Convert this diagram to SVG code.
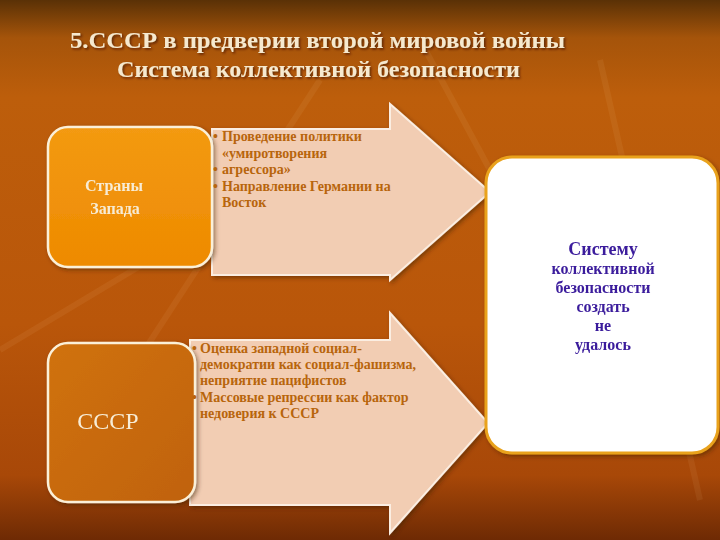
<svg xmlns="http://www.w3.org/2000/svg" width="720" height="540" viewBox="0 0 720 540">
<defs>
<linearGradient id="bg" x1="0" y1="0" x2="0" y2="1">
<stop offset="0" stop-color="#5a3106"/>
<stop offset="0.07" stop-color="#a5540a"/>
<stop offset="0.18" stop-color="#bd5e0b"/>
<stop offset="0.6" stop-color="#b9560a"/>
<stop offset="0.88" stop-color="#a84808"/>
<stop offset="1" stop-color="#6e2a04"/>
</linearGradient>
<linearGradient id="b1" x1="0" y1="0" x2="0" y2="1">
<stop offset="0" stop-color="#f39a12"/>
<stop offset="1" stop-color="#ee8a00"/>
</linearGradient>
<linearGradient id="b2" x1="0" y1="0" x2="1" y2="1">
<stop offset="0" stop-color="#d0720e"/>
<stop offset="1" stop-color="#c06208"/>
</linearGradient>
<filter id="sh" x="-10%" y="-10%" width="120%" height="120%">
<feDropShadow dx="2" dy="2" stdDeviation="2" flood-color="#3a1a00" flood-opacity="0.5"/>
</filter>
<filter id="tsh" x="-5%" y="-20%" width="110%" height="140%">
<feDropShadow dx="1.5" dy="1.5" stdDeviation="1" flood-color="#3a1800" flood-opacity="0.7"/>
</filter>
</defs>
<style>
.title{font-family:"Liberation Serif","DejaVu Serif",serif;font-weight:bold;font-size:24px;fill:#f6e9cf}
.lbl{font-family:"Liberation Serif","DejaVu Serif",serif;fill:#f7ecd6;text-anchor:middle}
.bul{font-family:"Liberation Serif","DejaVu Serif",serif;font-weight:bold;font-size:14px;fill:#b8650c}
.res{font-family:"Liberation Serif","DejaVu Serif",serif;font-weight:bold;fill:#3b1c9c;text-anchor:middle}
.box{stroke:#fbf0d8;stroke-width:2.5}
.arr{fill:#f2cdb3;stroke:#fbeee2;stroke-width:2}
</style>
<rect width="720" height="540" fill="url(#bg)"/>
<g opacity="0.07" stroke="#ffd9a0" stroke-width="6" fill="none">
<path d="M0 350 L200 230"/>
<path d="M60 480 L320 80"/>
<path d="M420 40 L560 300"/>
<path d="M600 60 L700 500"/>
</g>
<g id="title" filter="url(#tsh)">
<text class="title" x="70" y="48" textLength="495" lengthAdjust="spacingAndGlyphs">5.СССР в предверии второй мировой войны</text>
<text class="title" x="117" y="77" textLength="403" lengthAdjust="spacingAndGlyphs">Система коллективной безопасности</text>
</g>
<g id="connectors">
<g id="arrow1" filter="url(#sh)">
<path class="arr" d="M212 129 H390 V104 L490 192 L390 280 V275 H212 Z"/>
</g>
<g id="arrow2" filter="url(#sh)">
<path class="arr" d="M190 340 H390 V313 L488 423 L390 533 V505 H190 Z"/>
</g>
</g>
<g id="node-west" filter="url(#sh)">
<rect class="box" x="48" y="127" width="164" height="140" rx="20" fill="url(#b1)"/>
<text class="lbl" x="114" y="191" font-size="16" font-weight="bold">Страны</text>
<text class="lbl" x="115" y="214" font-size="16" font-weight="bold">Запада</text>
</g>
<g id="node-ussr" filter="url(#sh)">
<rect class="box" x="48" y="343" width="147" height="159" rx="20" fill="url(#b2)"/>
<text class="lbl" x="108" y="429" font-size="24">СССР</text>
</g>
<g id="text-west">
<text class="bul"><tspan x="213" y="141">•</tspan><tspan x="222" y="141">Проведение политики</tspan><tspan x="222" y="158">«умиротворения</tspan><tspan x="213" y="174">•</tspan><tspan x="222" y="174">агрессора»</tspan><tspan x="213" y="191">•</tspan><tspan x="222" y="191">Направление Германии на</tspan><tspan x="222" y="207">Восток</tspan></text>
</g>
<g id="text-ussr">
<text class="bul"><tspan x="192" y="353">•</tspan><tspan x="200" y="353">Оценка западной социал-</tspan><tspan x="200" y="369">демократии как социал-фашизма,</tspan><tspan x="200" y="385">неприятие пацифистов</tspan><tspan x="192" y="402">•</tspan><tspan x="200" y="402">Массовые репрессии как фактор</tspan><tspan x="200" y="418">недоверия к СССР</tspan></text>
</g>
<g id="node-result" filter="url(#sh)">
<rect x="486" y="157" width="232" height="296" rx="26" fill="#ffffff" stroke="#e9a21c" stroke-width="3"/>
<text class="res" x="603" y="255" font-size="18">Систему</text>
<text class="res" x="603" y="274" font-size="16">коллективной</text>
<text class="res" x="603" y="293" font-size="16">безопасности</text>
<text class="res" x="603" y="312" font-size="16">создать</text>
<text class="res" x="603" y="331" font-size="16">не</text>
<text class="res" x="603" y="350" font-size="16">удалось</text>
</g>
</svg>
